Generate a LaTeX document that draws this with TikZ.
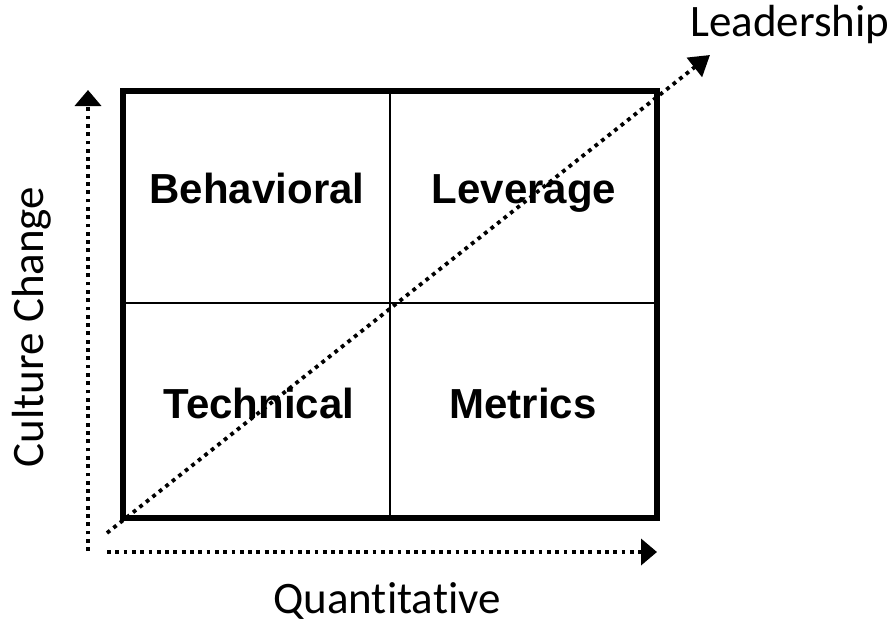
\documentclass[tikz,border=0pt]{standalone}
\usepackage{fontspec}
\setmainfont{Liberation Sans}
\newfontfamily\axisfont[Ligatures=NoCommon]{Carlito}
\usetikzlibrary{arrows.meta}
\tikzset{
  quad/.style={font=\fontsize{42}{48}\selectfont\bfseries, anchor=base, inner sep=0pt},
  axislabel/.style={font=\axisfont\fontsize{45}{52}\selectfont, anchor=base, inner sep=0pt},
  dotarrow/.style={line width=3.8pt, dash pattern=on 3.8pt off 4.5pt,
    -{Triangle[length=16pt,width=26pt]}},
}
\begin{document}
\begin{tikzpicture}[x=1pt,y=-1pt]
\useasboundingbox (0,0) rectangle (892,626);
\coordinate (tl) at (123,91);
\coordinate (br) at (657,518);
\coordinate (tm) at (390,91);
\coordinate (bm) at (390,518);
\coordinate (lm) at (123,303);
\coordinate (rm) at (657,303);
\draw[line width=2pt] (tm) -- (bm);
\draw[line width=2pt] (lm) -- (rm);
\draw[line width=5.5pt] (tl) rectangle (br);
\node[quad] (beh) at (257,203) {Behavioral};
\node[quad] (lev) at (524,203) {Leverage};
\node[quad] (tech) at (259,418) {Technical};
\node[quad] (met) at (523,418) {Metrics};
\coordinate (vstart) at (88,551);
\coordinate (vend) at (88,90);
\coordinate (hstart) at (107,552);
\coordinate (hend) at (657,552);
\coordinate (dstart) at (107,533);
\coordinate (dend) at (710,55);
\draw[dotarrow] (vstart) -- (vend);
\draw[dotarrow] (hstart) -- (hend);
\draw[dotarrow, -{Triangle[length=20pt,width=24pt]}] (dstart) -- (dend);
\node[axislabel, rotate=90] (cc) at (43,327) {Culture Change};
\node[axislabel] (qt) at (387,613) {Quantitative};
\node[axislabel] (ld) at (790,37) {Leadership};
\end{tikzpicture}
\end{document}
